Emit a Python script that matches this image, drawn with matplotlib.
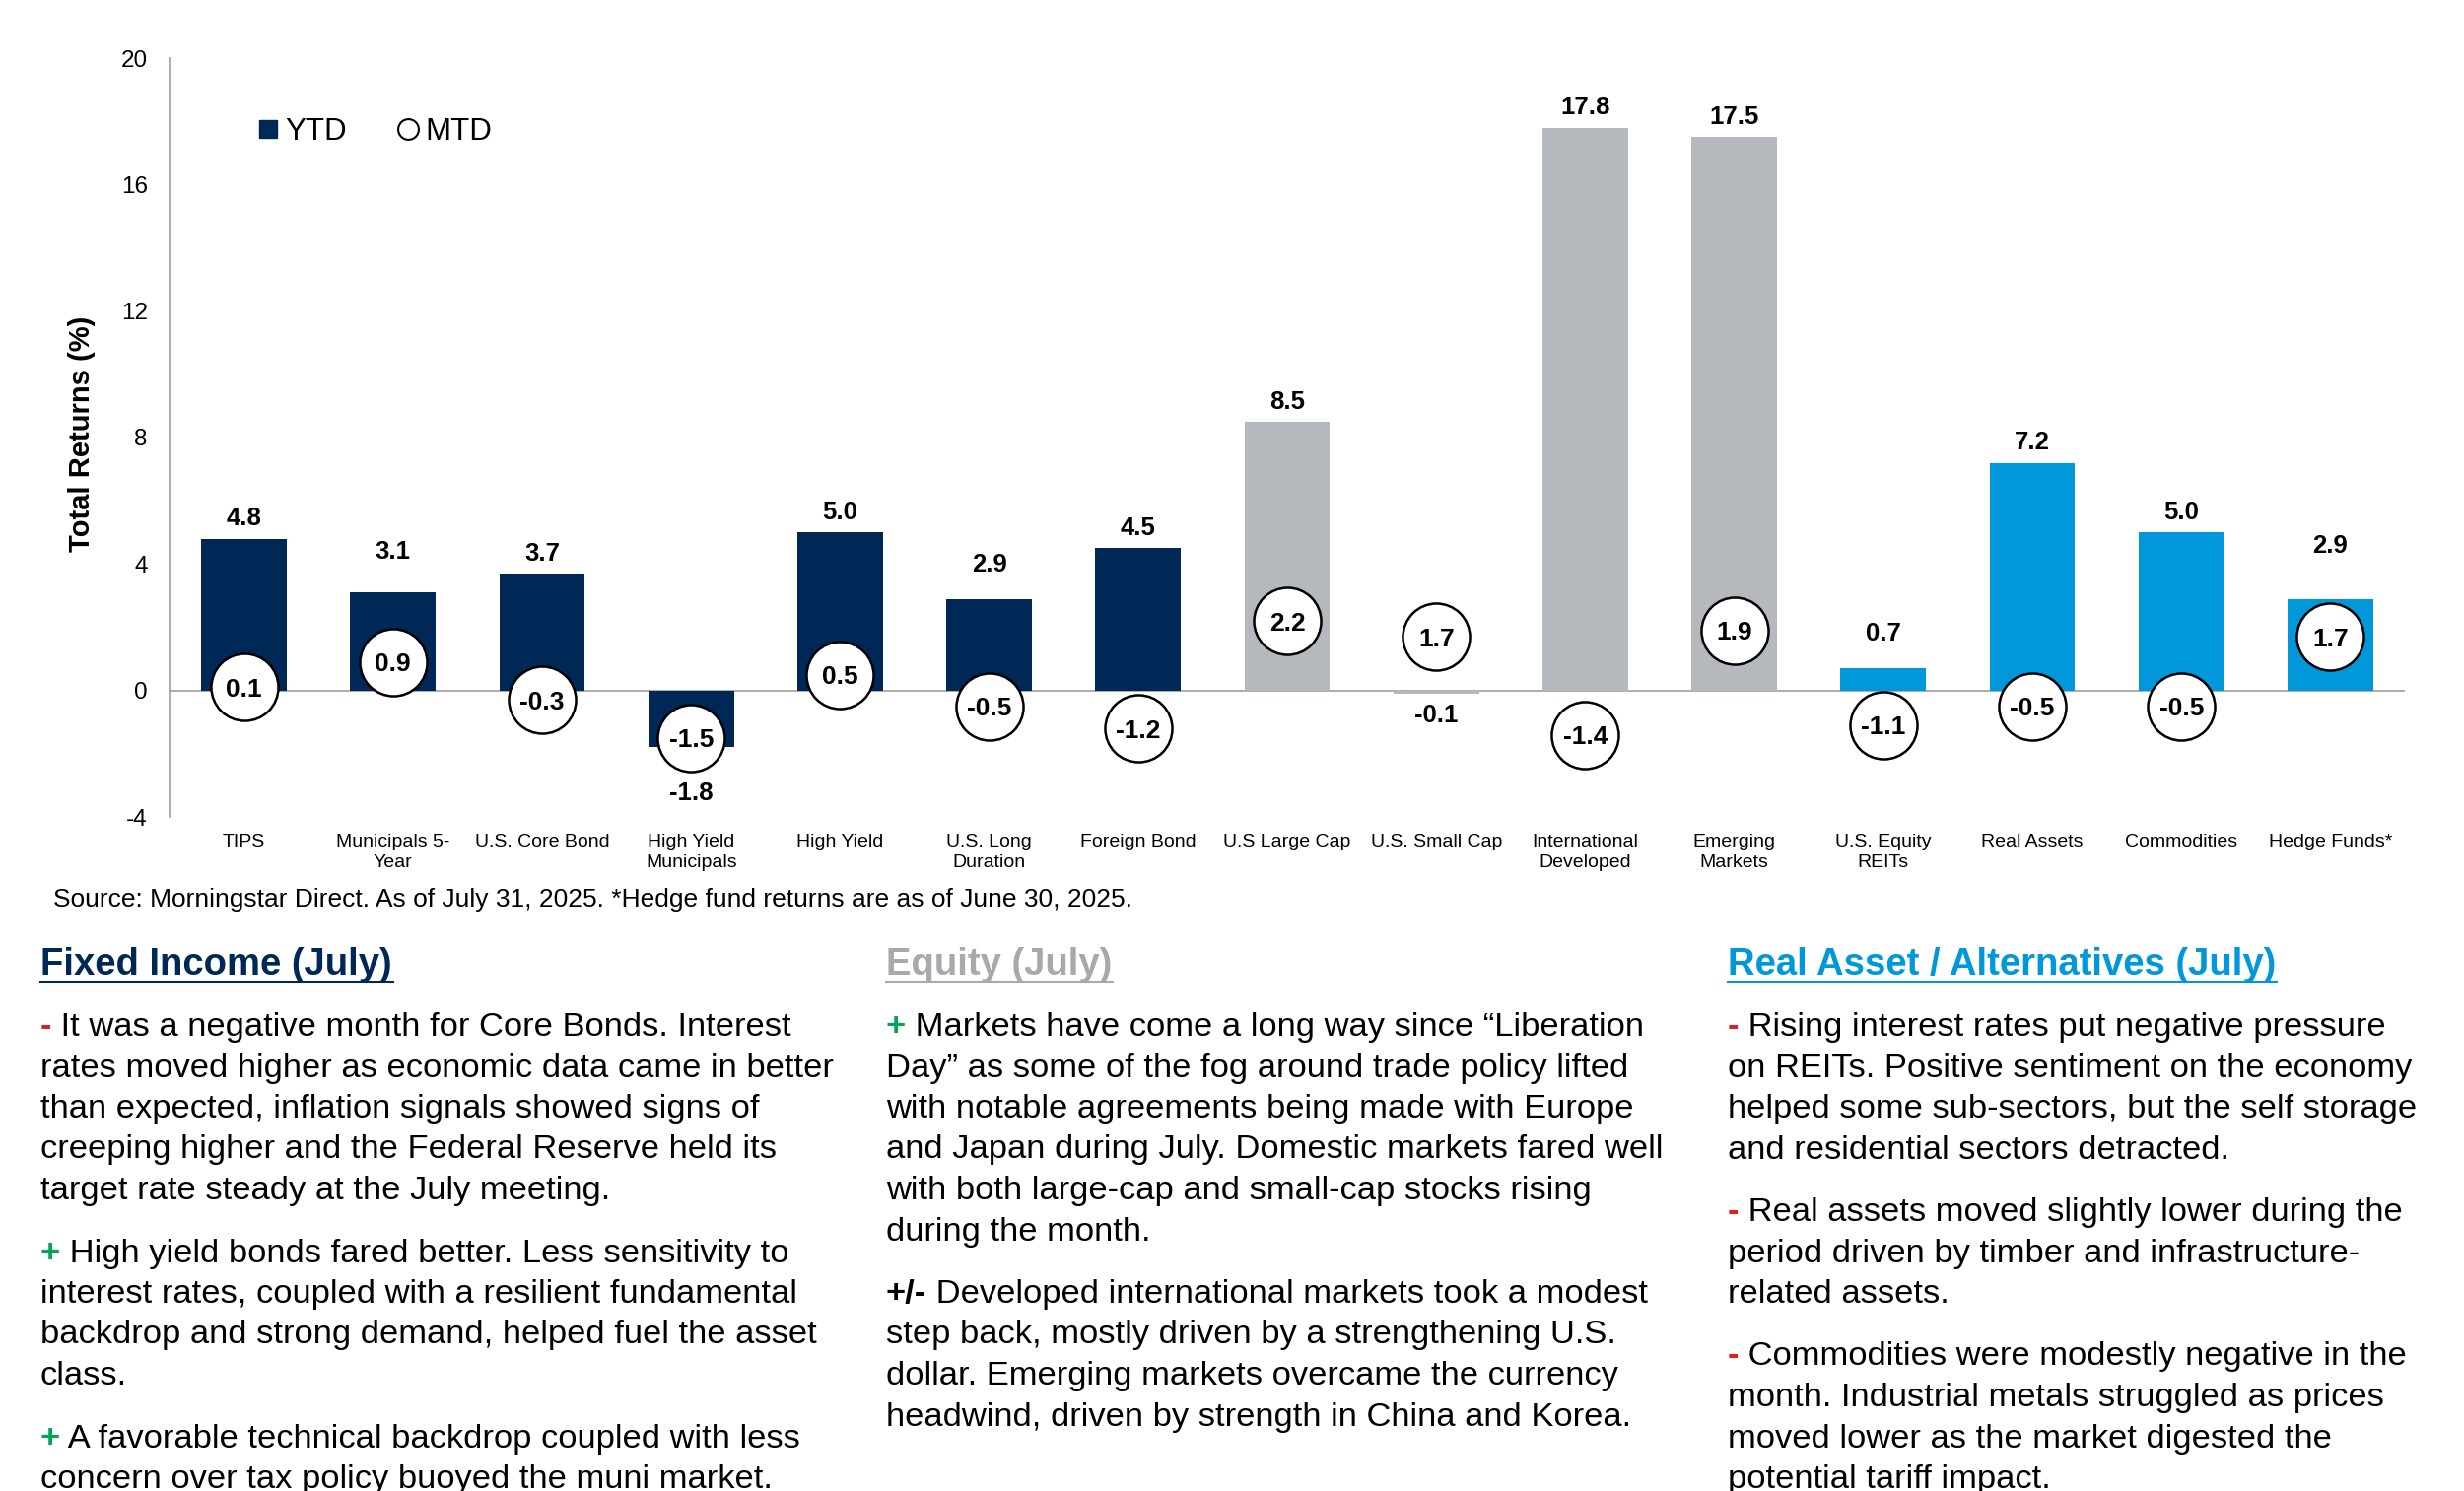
import matplotlib
matplotlib.use('Agg')
import matplotlib.pyplot as plt
from matplotlib.lines import Line2D

plt.rcParams['font.family'] = ['Liberation Sans', 'DejaVu Sans']
plt.rcParams['axes.unicode_minus'] = False

# chart data
categories = ["TIPS", "Municipals 5-\nYear", "U.S. Core Bond", "High Yield\nMunicipals",
              "High Yield", "U.S. Long\nDuration", "Foreign Bond", "U.S Large Cap",
              "U.S. Small Cap", "International\nDeveloped", "Emerging\nMarkets",
              "U.S. Equity\nREITs", "Real Assets", "Commodities", "Hedge Funds*"]
ytd = [4.8, 3.1, 3.7, -1.8, 5.0, 2.9, 4.5, 8.5, -0.1, 17.8, 17.5, 0.7, 7.2, 5.0, 2.9]
mtd = [0.1, 0.9, -0.3, -1.5, 0.5, -0.5, -1.2, 2.2, 1.7, -1.4, 1.9, -1.1, -0.5, -0.5, 1.7]
groups = ['fixed'] * 7 + ['equity'] * 4 + ['real'] * 4

source_note = "Source: Morningstar Direct. As of July 31, 2025. *Hedge fund returns are as of June 30, 2025."

# commentary text
headings = ["Fixed Income (July)", "Equity (July)", "Real Asset / Alternatives (July)"]

fixed_income_notes = [
    ("-", ["It was a negative month for Core Bonds. Interest",
           "rates moved higher as economic data came in better",
           "than expected, inflation signals showed signs of",
           "creeping higher and the Federal Reserve held its",
           "target rate steady at the July meeting."]),
    ("+", ["High yield bonds fared better. Less sensitivity to",
           "interest rates, coupled with a resilient fundamental",
           "backdrop and strong demand, helped fuel the asset",
           "class."]),
    ("+", ["A favorable technical backdrop coupled with less",
           "concern over tax policy buoyed the muni market."]),
]
equity_notes = [
    ("+", ["Markets have come a long way since \u201cLiberation",
           "Day\u201d as some of the fog around trade policy lifted",
           "with notable agreements being made with Europe",
           "and Japan during July. Domestic markets fared well",
           "with both large-cap and small-cap stocks rising",
           "during the month."]),
    ("+/-", ["Developed international markets took a modest",
             "step back, mostly driven by a strengthening U.S.",
             "dollar. Emerging markets overcame the currency",
             "headwind, driven by strength in China and Korea."]),
]
real_asset_notes = [
    ("-", ["Rising interest rates put negative pressure",
           "on REITs. Positive sentiment on the economy",
           "helped some sub-sectors, but the self storage",
           "and residential sectors detracted."]),
    ("-", ["Real assets moved slightly lower during the",
           "period driven by timber and infrastructure-",
           "related assets."]),
    ("-", ["Commodities were modestly negative in the",
           "month. Industrial metals struggled as prices",
           "moved lower as the market digested the",
           "potential tariff impact."]),
]

NAVY = '#002856'
GRAY = '#B5B8BD'
BLUE = '#0098DB'
group_colors = {'fixed': NAVY, 'equity': GRAY, 'real': BLUE}
prefix_colors = {'-': '#E31B23', '+': '#00A651', '+/-': 'black'}

# extra lift (points) of a few YTD labels, as placed in the original
label_lift = [0, 15, 0, 0, 0, 10, 0, 0, 0, 0, 0, 11, 0, 0, 24]

W, H = 2500, 1513
fig = plt.figure(figsize=(W / 100, H / 100), dpi=100)
ax = fig.add_axes([172 / W, 1 - 829 / H, (2440 - 172) / W, (829 - 59) / H])

x = list(range(len(categories)))
ax.bar(x, ytd, width=0.575, color=[group_colors[g] for g in groups], zorder=2)
ax.axhline(0, color='#A6A6A6', lw=1.3, zorder=1)

# MTD circles
ax.plot(x, mtd, 'o', ms=49, mfc='white', mec='black', mew=1.8, ls='none', zorder=3)
for xi, m in zip(x, mtd):
    ax.text(xi, m, f'{m:.1f}', ha='center', va='center_baseline', fontsize=19,
            fontweight='bold', zorder=4)

ax.set_xlim(-0.5, 14.5)
ax.set_ylim(-4, 20)

# YTD labels (below the circle when it hangs under a negative bar)
circle_r = 34 / (ax.bbox.height / 24)
for xi, v, m, lift in zip(x, ytd, mtd, label_lift):
    if v >= 0:
        ax.annotate(f'{v:.1f}', xy=(xi, v), xytext=(0, 6 + lift), textcoords='offset points',
                    ha='center', va='bottom', fontsize=18.5, fontweight='bold')
    else:
        anchor = min(v, m - circle_r) if m < 0 else v
        ax.annotate(f'{v:.1f}', xy=(xi, anchor), xytext=(0, -7), textcoords='offset points',
                    ha='center', va='top', fontsize=18.5, fontweight='bold')

ax.set_yticks(range(-4, 21, 4))
ax.set_xticks(x)
ax.set_xticklabels(categories, linespacing=1.3)
ax.tick_params(axis='y', length=0, pad=16, labelsize=17.5)
ax.tick_params(axis='x', length=0, pad=12, labelsize=14)
for s in ['top', 'right', 'bottom']:
    ax.spines[s].set_visible(False)
ax.spines['left'].set_color('#A6A6A6')
ax.spines['left'].set_linewidth(1.3)

ax.set_ylabel('Total Returns (%)', fontsize=21, fontweight='bold')
ax.yaxis.set_label_coords(-0.033, 0.505)

handles = [Line2D([], [], marker='s', ls='none', color=NAVY, ms=13),
           Line2D([], [], marker='o', ls='none', mfc='white', mec='black', mew=1.5, ms=15)]
ax.legend(handles, ['YTD', 'MTD'], loc='center left', bbox_to_anchor=(0.0386, 0.903),
          ncol=2, frameon=False, fontsize=22.5, handletextpad=0.15, columnspacing=1.6,
          handlelength=0.8, borderaxespad=0, borderpad=0)


def fx(px):
    return px / W


def fy(py):
    return 1 - py / H


fig.text(fx(54), fy(920), source_note, fontsize=19, va='baseline')

# commentary columns
col_x = [41, 899, 1753]
heading_colors = [NAVY, '#A7A9AC', BLUE]
columns = [fixed_income_notes, equity_notes, real_asset_notes]
BODY = 24.8
LINE = 41.5
PARA = 22
heading_texts = []
for cx, head, hcol, notes in zip(col_x, headings, heading_colors, columns):
    t = fig.text(fx(cx), fy(989), head, fontsize=27.5, fontweight='bold', color=hcol,
                 va='baseline')
    heading_texts.append((t, hcol))
    y = 1039 + 12
    for prefix, lines in notes:
        p = fig.text(fx(cx), fy(y), prefix, fontsize=BODY, fontweight='bold',
                     color=prefix_colors[prefix], va='baseline')
        ax.annotate(' ' + lines[0], xy=(1, 0), xycoords=p, ha='left', va='bottom',
                    fontsize=BODY, annotation_clip=False)
        for ln in lines[1:]:
            y += LINE
            fig.text(fx(cx), fy(y), ln, fontsize=BODY, va='baseline')
        y += LINE + PARA

# underline the headings
fig.canvas.draw()
renderer = fig.canvas.get_renderer()
for t, hcol in heading_texts:
    bb = t.get_window_extent(renderer)
    fig.add_artist(Line2D([bb.x0 / W, bb.x1 / W], [fy(996), fy(996)],
                          transform=fig.transFigure, color=hcol, lw=2.2))

fig.savefig('out.png', dpi=100)
